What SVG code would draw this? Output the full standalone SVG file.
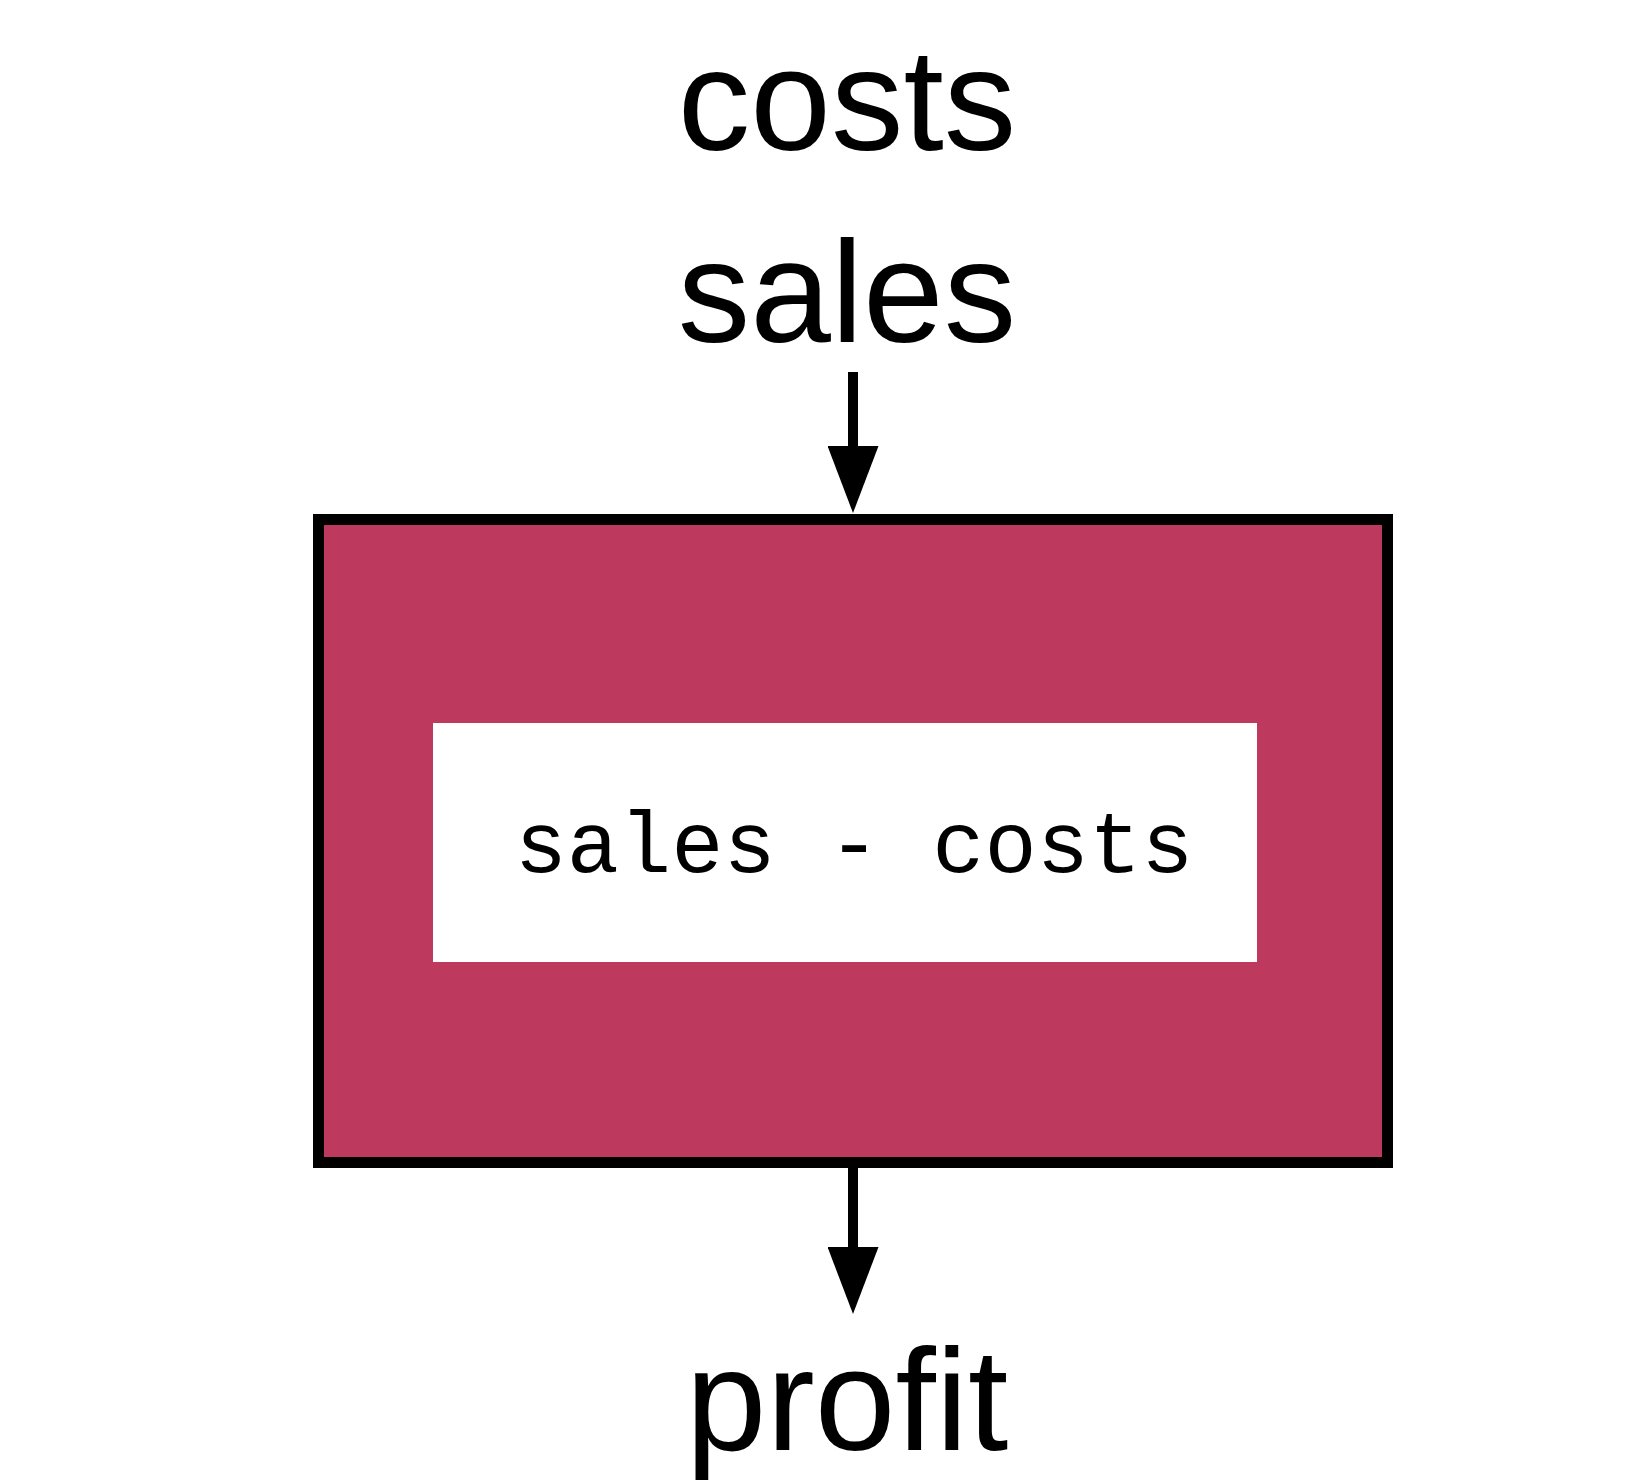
<svg xmlns="http://www.w3.org/2000/svg" width="1648" height="1484" viewBox="0 0 1648 1484">
  <style>
    .label { font-family: "Liberation Sans", Arial, sans-serif; font-size: 145px; fill: #000; text-anchor: middle; }
    .code { font-family: "Liberation Mono", "DejaVu Sans Mono", monospace; font-size: 87px; fill: #000; text-anchor: middle; }
    .conn { stroke: #000; stroke-width: 10; fill: none; }
  </style>
  <defs>
    <marker id="head" viewBox="0 0 67 51" refX="0" refY="25.5" markerWidth="67" markerHeight="51" markerUnits="userSpaceOnUse" orient="auto">
      <path d="M0,0 L67,25.5 L0,51 Z" fill="#000"/>
    </marker>
  </defs>
  <rect width="1648" height="1484" fill="#ffffff"/>
  <g id="input-costs">
    <text class="label" x="847" y="150">costs</text>
  </g>
  <g id="input-sales">
    <text class="label" x="847" y="342">sales</text>
  </g>
  <g id="function-box">
    <rect x="318.5" y="519.5" width="1069" height="643" fill="#BD3A5E" stroke="#000" stroke-width="11"/>
    <rect x="433" y="723" width="824" height="239" fill="#ffffff"/>
    <text class="code" x="854" y="872">sales - costs</text>
  </g>
  <g id="output-profit">
    <text class="label" x="847" y="1450">profit</text>
  </g>
  <g id="connectors">
    <line class="conn" x1="853" y1="372" x2="853" y2="446" marker-end="url(#head)"/>
    <line class="conn" x1="853" y1="1168" x2="853" y2="1247" marker-end="url(#head)"/>
  </g>
</svg>
